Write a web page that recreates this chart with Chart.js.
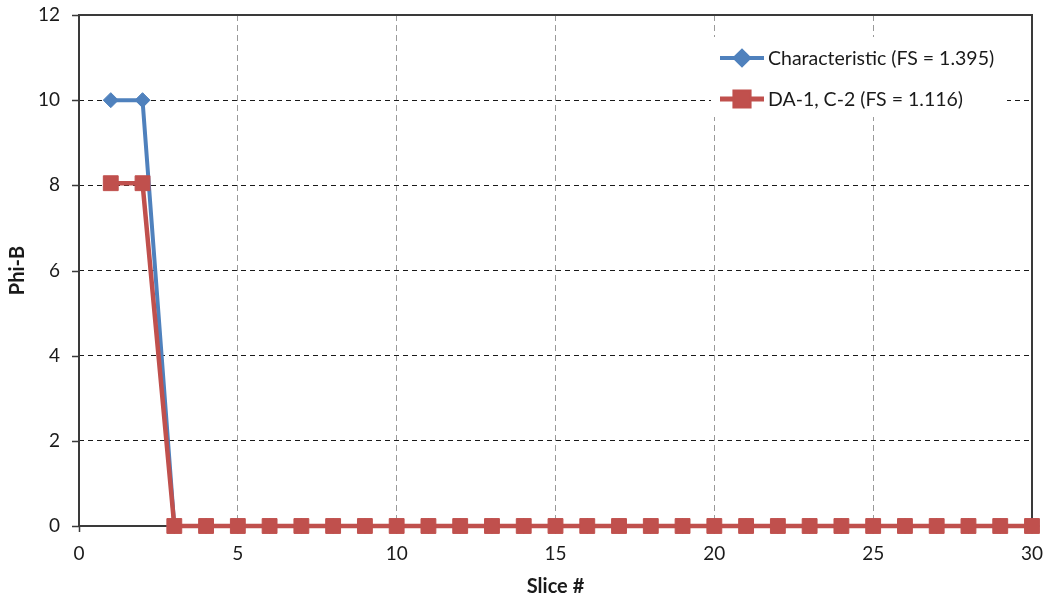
<!DOCTYPE html>
<html>
<head>
<meta charset="utf-8">
<script src="https://cdn.jsdelivr.net/npm/chart.js@4/dist/chart.umd.min.js"></script>
<style>
  html, body { margin: 0; padding: 0; background: #fff; }
  #wrap { width: 1046px; height: 599px; position: relative; }
</style>
</head>
<body>
<div id="wrap"><canvas id="c" width="1046" height="599"></canvas></div>
<script>
// ---- Data ----
const slices = [1,2,3,4,5,6,7,8,9,10,11,12,13,14,15,16,17,18,19,20,21,22,23,24,25,26,27,28,29,30];
const characteristic = [10,10,0,0,0,0,0,0,0,0,0,0,0,0,0,0,0,0,0,0,0,0,0,0,0,0,0,0,0,0];
const da1c2 = [8.05,8.05,0,0,0,0,0,0,0,0,0,0,0,0,0,0,0,0,0,0,0,0,0,0,0,0,0,0,0,0];
const seriesNames = ['Characteristic (FS = 1.395)', 'DA-1, C-2 (FS = 1.116)'];
const xTicks = [0,5,10,15,20,25,30];
const yTicks = [0,2,4,6,8,10,12];
const xTitle = 'Slice #';
const yTitle = 'Phi-B';

const BLUE = '#4F81BD';
const RED = '#C0504D';
const FONT = 'Lato, "Open Sans", sans-serif';

function pts(ys) { return slices.map((x, i) => ({ x: x, y: ys[i] })); }

const frame = {
  id: 'frame',
  beforeDatasetsDraw(chart) {
    const { ctx, chartArea: a, scales } = chart;
    ctx.save();
    ctx.strokeStyle = '#3a3a3a';
    ctx.lineWidth = 2;
    ctx.setLineDash([]);
    ctx.strokeRect(a.left, a.top, a.right - a.left, a.bottom - a.top);
    // tick marks
    ctx.lineWidth = 1.5;
    ctx.beginPath();
    yTicks.forEach(v => {
      const y = Math.round(scales.y.getPixelForValue(v)) + 0.5;
      ctx.moveTo(a.left - 7, y); ctx.lineTo(a.left, y);
    });
    xTicks.forEach(v => {
      const x = Math.round(scales.x.getPixelForValue(v)) + 0.5;
      ctx.moveTo(x, a.bottom); ctx.lineTo(x, a.bottom + 6);
    });
    ctx.stroke();
    ctx.restore();
  },
  afterDatasetsDraw(chart) {
    const { ctx } = chart;
    ctx.save();
    ctx.fillStyle = '#fff';
    ctx.fillRect(711, 37, 296, 80);
    const rows = [
      { y: 58, color: BLUE, style: 'rectRot', r: 7, lw: 4 },
      { y: 99, color: RED, style: 'rect', r: 10, lw: 5 }
    ];
    rows.forEach((row, i) => {
      ctx.strokeStyle = row.color;
      ctx.lineWidth = row.lw;
      ctx.beginPath();
      ctx.moveTo(720, row.y); ctx.lineTo(764, row.y);
      ctx.stroke();
      ctx.fillStyle = row.color;
      Chart.helpers.drawPoint(ctx, { pointStyle: row.style, radius: row.r, borderWidth: 1, rotation: 0 }, 742, row.y);
      ctx.fill();
      ctx.fillStyle = '#1a1a1a';
      ctx.font = '19.5px ' + FONT;
      ctx.textBaseline = 'middle';
      ctx.textAlign = 'left';
      ctx.fillText(seriesNames[i], 768, row.y + 1);
    });
    ctx.restore();
  }
};

new Chart(document.getElementById('c'), {
  type: 'scatter',
  data: {
    datasets: [
      {
        label: seriesNames[0], data: pts(characteristic), showLine: true, clip: false,
        borderColor: BLUE, backgroundColor: BLUE, borderWidth: 4,
        pointStyle: 'rectRot', pointRadius: 7.5, pointBorderWidth: 1, order: 1
      },
      {
        label: seriesNames[1], data: pts(da1c2), showLine: true, clip: false,
        borderColor: RED, backgroundColor: RED, borderWidth: 4.5,
        pointStyle: 'rect', pointRadius: 10.5, pointBorderWidth: 1, order: 0
      }
    ]
  },
  plugins: [frame],
  options: {
    responsive: false,
    animation: false,
    layout: { padding: { top: 15, right: 14, left: 0, bottom: 0 } },
    plugins: { legend: { display: false }, tooltip: { enabled: false } },
    scales: {
      x: {
        type: 'linear', min: 0, max: 30,
        afterFit(s) { s.height = 73; s.paddingLeft = 0; s.paddingRight = 0; },
        afterBuildTicks(s) { s.ticks = xTicks.map(v => ({ value: v })); },
        border: { display: false, dash: [6, 4] },
        grid: {
          color: ctx => (ctx.tick && (ctx.tick.value === 0 || ctx.tick.value === 30)) ? 'rgba(0,0,0,0)' : '#9a9a9a',
          lineWidth: 1, drawTicks: false
        },
        ticks: { padding: 16, color: '#1a1a1a', font: { family: FONT, size: 19 }, maxRotation: 0 },
        title: { display: true, text: xTitle, color: '#1a1a1a', font: { family: FONT, size: 20, weight: 'bold' }, padding: { top: 0, bottom: 0 } }
      },
      y: {
        type: 'linear', min: 0, max: 12,
        afterFit(s) { s.width = 79; s.paddingTop = 0; s.paddingBottom = 0; },
        afterBuildTicks(s) { s.ticks = yTicks.map(v => ({ value: v })); },
        border: { display: false, dash: [5, 4] },
        grid: {
          color: ctx => (ctx.tick && (ctx.tick.value === 0 || ctx.tick.value === 12)) ? 'rgba(0,0,0,0)' : '#1a1a1a',
          lineWidth: 1, drawTicks: false
        },
        ticks: { padding: 19, color: '#1a1a1a', font: { family: FONT, size: 19 } },
        title: { display: true, text: yTitle, color: '#1a1a1a', font: { family: FONT, size: 20, weight: 'bold' }, padding: { top: 6, bottom: 0 } }
      }
    }
  }
});
</script>
</body>
</html>
